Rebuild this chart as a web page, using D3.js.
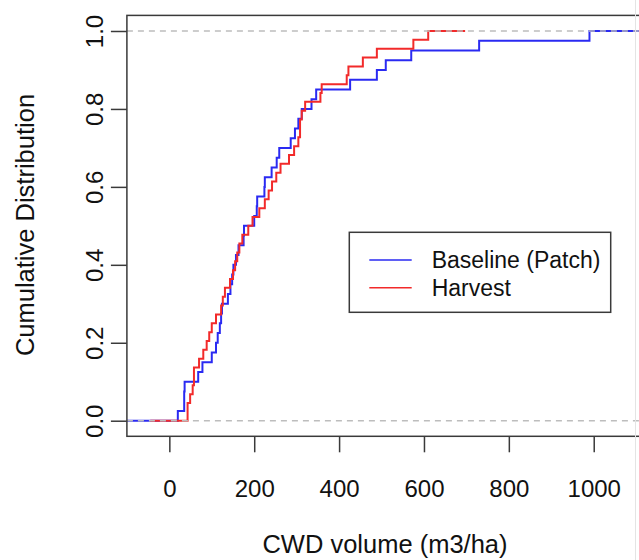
<!DOCTYPE html>
<html>
<head>
<meta charset="utf-8">
<script src="https://cdn.jsdelivr.net/npm/d3@7"></script>
<style>
  body { margin: 0; background: #fff; }
  svg text { font-family: Arial, "Liberation Sans", sans-serif; fill: #111; }
</style>
</head>
<body>
<svg id="chart" width="639" height="560"></svg>
<script>
// sorted CWD volumes (m3/ha)
var baseline = [20, 35, 35, 36, 68, 78, 100, 110, 114, 119,
  122, 124, 138, 144, 148, 151, 157, 163, 175, 176,
  200, 206, 207, 224, 225, 241, 253, 259, 286, 296,
  304, 312, 335, 346, 426, 489, 510, 570, 730, 990];
var harvest = [43, 43, 49, 55, 58, 58, 70, 80, 88, 94,
  100, 110, 122, 126, 131, 143, 150, 155, 160, 165,
  172, 186, 196, 212, 225, 234, 242, 252, 262, 282,
  294, 304, 308, 308, 312, 320, 356, 359, 418, 422,
  456, 489, 575, 610];
var seriesNames = ["Baseline (Patch)", "Harvest"];
var seriesColors = ["#2a2af2", "#f22a2a"];
var xTicks = [0, 200, 400, 600, 800, 1000];
var yTicks = [0, 0.2, 0.4, 0.6, 0.8, 1.0];
// where each curve's flat tails start / stop
var tails = [[-100, 1110], [-45, 697]];

var svg = d3.select("#chart");

var x = d3.scaleLinear().domain([-100, 1110]).range([126.9, 640.4]);
var y = d3.scaleLinear().domain([-0.04, 1.04]).range([436.3, 15.4]);

svg.append("clipPath").attr("id", "plotclip")
  .append("rect")
  .attr("x", x.range()[0]).attr("y", y.range()[1])
  .attr("width", x.range()[1] - x.range()[0])
  .attr("height", y.range()[0] - y.range()[1]);

function ecdfPoints(vals, tail) {
  var n = vals.length;
  var pts = [[tail[0], 0]];
  vals.forEach(function(v, i) { pts.push([v, (i + 1) / n]); });
  pts.push([tail[1], 1]);
  return pts;
}

var line = d3.line()
  .x(function(d) { return x(d[0]); })
  .y(function(d) { return y(d[1]); })
  .curve(d3.curveStepAfter);

var plot = svg.append("g").attr("clip-path", "url(#plotclip)");

[baseline, harvest].forEach(function(vals, i) {
  plot.append("path")
    .datum(ecdfPoints(vals, tails[i]))
    .attr("d", line)
    .attr("fill", "none")
    .attr("stroke", seriesColors[i])
    .attr("stroke-width", 2);
});

// grey dashed reference lines at 0 and 1
plot.selectAll(".ref")
  .data([0, 1])
  .enter().append("line")
  .attr("x1", x.range()[0]).attr("x2", x.range()[1])
  .attr("y1", function(d) { return y(d); })
  .attr("y2", function(d) { return y(d); })
  .attr("stroke", "#bdbdbd")
  .attr("stroke-width", 1.5)
  .attr("stroke-dasharray", "6,5");

// box
svg.append("rect")
  .attr("x", x.range()[0]).attr("y", y.range()[1])
  .attr("width", x.range()[1] - x.range()[0])
  .attr("height", y.range()[0] - y.range()[1])
  .attr("fill", "none")
  .attr("stroke", "#3a3a3a")
  .attr("stroke-width", 1.5);

// x axis
var xAxis = d3.axisBottom(x).tickValues(xTicks).tickSize(16).tickFormat(d3.format("d"));
var gx = svg.append("g")
  .attr("transform", "translate(0," + y.range()[0] + ")")
  .call(xAxis);
gx.select(".domain").remove();
gx.selectAll(".tick line").attr("stroke", "#3a3a3a").attr("stroke-width", 1.5);
gx.selectAll(".tick text")
  .attr("y", 61).attr("dy", null)
  .style("font-size", "24px")
  .attr("fill", "#111");

// y axis
var yAxis = d3.axisLeft(y).tickValues(yTicks).tickSize(16).tickFormat(d3.format(".1f"));
var gy = svg.append("g")
  .attr("transform", "translate(" + x.range()[0] + ",0)")
  .call(yAxis);
gy.select(".domain").remove();
gy.selectAll(".tick line").attr("stroke", "#3a3a3a").attr("stroke-width", 1.5);
gy.selectAll(".tick text")
  .attr("x", null).attr("dy", null)
  .attr("text-anchor", "middle")
  .attr("transform", "translate(-24,0) rotate(-90)")
  .style("font-size", "24px")
  .attr("fill", "#111");

// axis titles
svg.append("text")
  .attr("x", 385).attr("y", 553)
  .attr("text-anchor", "middle")
  .style("font-size", "25.5px")
  .text("CWD volume (m3/ha)");

svg.append("text")
  .attr("transform", "translate(34,225) rotate(-90)")
  .attr("text-anchor", "middle")
  .style("font-size", "25.5px")
  .text("Cumulative Distribution");

// legend
var legend = svg.append("g");
legend.append("rect")
  .attr("x", 349.3).attr("y", 232.3)
  .attr("width", 261.4).attr("height", 80)
  .attr("fill", "#fff")
  .attr("stroke", "#3a3a3a")
  .attr("stroke-width", 1.5);

var items = legend.selectAll(".item")
  .data(seriesNames)
  .enter().append("g")
  .attr("transform", function(d, i) { return "translate(0," + (260 + i * 27.7) + ")"; });
items.append("line")
  .attr("x1", 369.3).attr("x2", 411.7)
  .attr("stroke", function(d, i) { return seriesColors[i]; })
  .attr("stroke-width", 1.5);
items.append("text")
  .attr("x", 431.7).attr("dy", "0.36em")
  .style("font-size", "23px")
  .text(function(d) { return d; });

// faint edge of the original screenshot
svg.append("line")
  .attr("x1", 635.5).attr("x2", 635.5).attr("y1", 0).attr("y2", 560)
  .attr("stroke", "#e4e4e4").attr("stroke-width", 1);
</script>
</body>
</html>
